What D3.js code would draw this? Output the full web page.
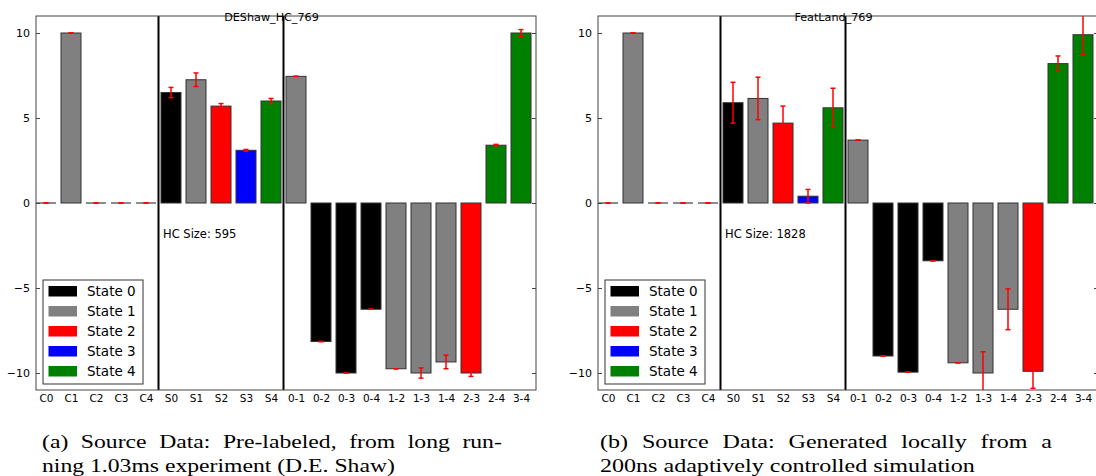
<!DOCTYPE html>
<html>
<head>
<meta charset="utf-8">
<script src="https://cdn.jsdelivr.net/npm/d3@7"></script>
<style>
  html, body { margin: 0; padding: 0; background: #fff; }
  svg { display: block; }
  text { font-family: "DejaVu Sans", sans-serif; fill: #000; }
  .caption { font-family: "Liberation Serif", "DejaVu Serif", serif; }
</style>
</head>
<body>
<svg id="chart" width="1096" height="476"></svg>
<script>
// ---- data ----
const categories = ["C0","C1","C2","C3","C4","S0","S1","S2","S3","S4",
  "0-1","0-2","0-3","0-4","1-2","1-3","1-4","2-3","2-4","3-4"];
// state index that colours each bar
const barStates = [1,1,1,1,1, 0,1,2,3,4, 1,0,0,0,1,1,1,2,4,4];
const stateNames = ["State 0","State 1","State 2","State 3","State 4"];
const stateColors = ["#000000","#808080","#ff0000","#0000ff","#008000"];
const yTicks = [-10,-5,0,5,10];

const deshawValues = [0,10,0,0,0, 6.5,7.25,5.7,3.1,6.0, 7.45,-8.15,-10,-6.25,-9.75,-10,-9.35,-10,3.4,10];
const deshawErrors = [0,0,0,0,0, 0.3,0.4,0.15,0.05,0.15, 0,0,0,0,0,0.3,0.4,0.2,0.05,0.2];
const featValues = [0,10,0,0,0, 5.9,6.15,4.7,0.4,5.6, 3.7,-9.0,-9.95,-3.4,-9.4,-10,-6.25,-9.9,8.2,9.9];
const featErrors = [0,0,0,0,0, 1.2,1.25,1.0,0.4,1.15, 0,0,0,0,0,1.25,1.2,1.0,0.45,1.15];

const panelTitles = ["DEShaw_HC_769","FeatLand_769"];
const hcSizes = ["HC Size: 595","HC Size: 1828"];
const captions = [
  ["(a) Source Data: Pre-labeled, from long run-", "ning 1.03ms experiment (D.E. Shaw)"],
  ["(b) Source Data:  Generated locally from a", "200ns adaptively controlled simulation"]
];
const separators = [4.9, 9.9];

// ---- drawing ----
const svg = d3.select("#chart");
const PW = 500, PTOP = 16, PBOT = 390;

function drawPanel(left, values, errors, title, hc, idx) {
  const x = d3.scaleLinear().domain([0, 20]).range([0, PW]);
  const y = d3.scaleLinear().domain([-11, 11]).range([PBOT, PTOP]);
  const g = svg.append("g").attr("transform", `translate(${left},0)`);
  const clipId = "clip" + idx;
  g.append("clipPath").attr("id", clipId).append("rect")
    .attr("x", 0).attr("y", PTOP).attr("width", PW).attr("height", PBOT - PTOP);
  const plot = g.append("g").attr("clip-path", `url(#${clipId})`);

  const bw = x(0.8) - x(0);
  // bars
  values.forEach((v, i) => {
    const x0 = x(i);
    const h = Math.abs(y(v) - y(0));
    if (h < 1) {
      plot.append("line").attr("x1", x0).attr("x2", x0 + bw)
        .attr("y1", y(0)).attr("y2", y(0))
        .attr("stroke", "#707070").attr("stroke-width", 1.6);
    } else {
      plot.append("rect").attr("x", x0).attr("width", bw)
        .attr("y", Math.min(y(v), y(0))).attr("height", h)
        .attr("fill", stateColors[barStates[i]])
        .attr("stroke", "#333").attr("stroke-width", 1);
    }
  });
  // error bars
  values.forEach((v, i) => {
    const cx = x(i + 0.4);
    const e = errors[i];
    const eg = plot.append("g").attr("stroke", "#ff0000").attr("stroke-width", 1.5);
    eg.append("line").attr("x1", cx).attr("x2", cx).attr("y1", y(v - e)).attr("y2", y(v + e));
    [v - e, v + e].forEach(t => {
      eg.append("line").attr("x1", cx - 2.5).attr("x2", cx + 2.5).attr("y1", y(t)).attr("y2", y(t));
    });
  });
  // separators
  separators.forEach(s => {
    g.append("line").attr("x1", x(s)).attr("x2", x(s)).attr("y1", PTOP).attr("y2", PBOT)
      .attr("stroke", "#000").attr("stroke-width", 2);
  });
  // frame
  g.append("rect").attr("x", 0).attr("y", PTOP).attr("width", PW).attr("height", PBOT - PTOP)
    .attr("fill", "none").attr("stroke", "#444").attr("stroke-width", 1);

  // axes
  const yl = g.append("g").call(d3.axisLeft(y).tickValues(yTicks).tickSize(-4).tickPadding(6));
  const yr = g.append("g").attr("transform", `translate(${PW},0)`)
    .call(d3.axisRight(y).tickValues(yTicks).tickSize(-4).tickFormat(""));
  [yl, yr].forEach(a => { a.select(".domain").remove(); a.selectAll("line").attr("stroke", "#444"); });
  yl.selectAll("text").attr("font-size", 11).attr("font-family", "DejaVu Sans").attr("fill", "#000");

  const xa = g.append("g").attr("transform", `translate(0,${PBOT})`)
    .call(d3.axisBottom(x).tickValues(d3.range(20).map(i => i + 0.4))
      .tickFormat((d, i) => categories[i]).tickSize(0).tickPadding(5));
  xa.select(".domain").remove();
  xa.selectAll("text").attr("font-size", 10.5).attr("font-family", "DejaVu Sans").attr("fill", "#000");

  // title
  g.append("text").attr("x", 235.5).attr("y", 21).attr("text-anchor", "middle")
    .attr("font-size", 11.2).text(title);
  // HC size
  g.append("text").attr("x", 127).attr("y", 238).attr("font-size", 11.5).text(hc);

  // legend
  const lg = g.append("g").attr("transform", "translate(7,280)");
  lg.append("rect").attr("x", 0).attr("y", 0).attr("width", 100).attr("height", 104)
    .attr("fill", "#fff").attr("stroke", "#333").attr("stroke-width", 1);
  stateNames.forEach((n, k) => {
    const cy = 11 + k * 20;
    lg.append("rect").attr("x", 5.5).attr("y", cy - 5).attr("width", 28.5).attr("height", 10.5)
      .attr("fill", stateColors[k]);
    lg.append("text").attr("x", 44).attr("y", cy).attr("dy", "0.36em")
      .attr("font-size", 13.5).text(n);
  });
}

drawPanel(36, deshawValues, deshawErrors, panelTitles[0], hcSizes[0], 0);
drawPanel(598, featValues, featErrors, panelTitles[1], hcSizes[1], 1);

// captions: TeX-like justified first line, natural second line
const capX = [42, 600];
const capFirstWidth = 460;
const capSecondWidth = [353, 375];
captions.forEach((cap, c) => {
  const t1 = svg.append("text").attr("class", "caption").attr("font-size", 19).text(cap[0]);
  const t2 = svg.append("text").attr("class", "caption").attr("font-size", 19).text(cap[1]);
  const n1 = t1.node().getComputedTextLength();
  const n2 = t2.node().getComputedTextLength();
  const s = capSecondWidth[c] / n2;          // horizontal glyph stretch
  const spaces = (cap[0].match(/ /g) || []).length;
  const ws = Math.max(0, (capFirstWidth / s - n1) / spaces);
  t1.attr("transform", `translate(${capX[c]},448) scale(${s},1)`).attr("word-spacing", ws);
  t2.attr("transform", `translate(${capX[c]},472) scale(${s},1)`);
});
</script>
</body>
</html>
